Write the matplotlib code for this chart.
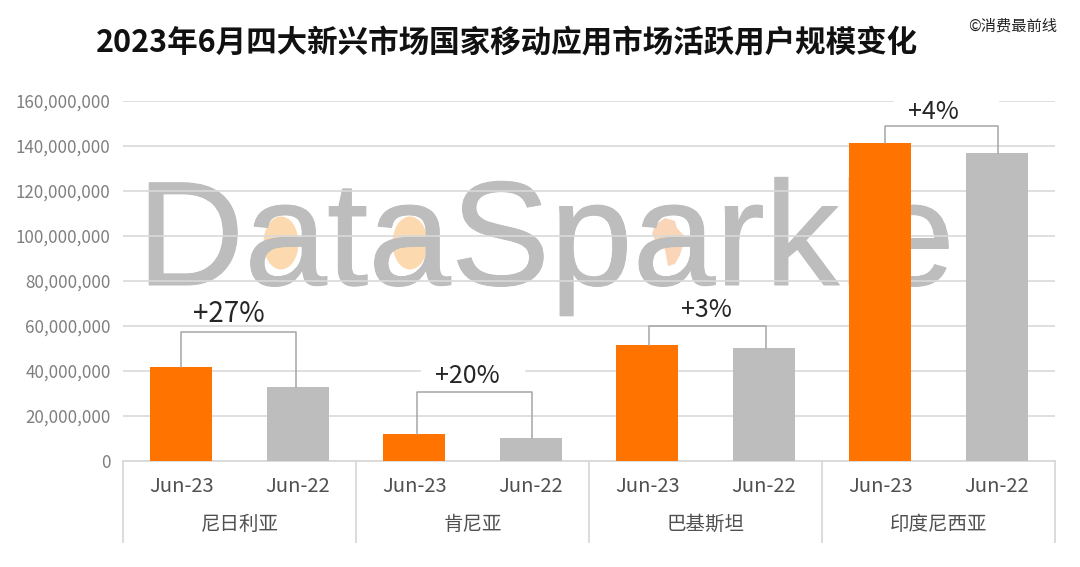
import numpy as np
import matplotlib.pyplot as plt
import matplotlib.patheffects as pe
from matplotlib.patches import Ellipse, Polygon

plt.rcParams['font.family'] = ['Noto Sans CJK SC', 'DejaVu Sans']

# Data
countries = ["尼日利亚", "肯尼亚", "巴基斯坦", "印度尼西亚"]
periods = ["Jun-23", "Jun-22"]
jun23 = [41500000, 12000000, 51500000, 141500000]
jun22 = [32500000, 10000000, 50000000, 137000000]
growth = ["+27%", "+20%", "+3%", "+4%"]
bracket_tops = [57000000, 30500000, 60000000, 149000000]
yticks = list(range(0, 160000001, 20000000))

ORANGE = "#ff7300"
GREY = "#bdbdbd"
LINE = "#d9d9d9"

fig = plt.figure(figsize=(10.8, 5.67), dpi=100)

# Watermark layer, in pixel coordinates, sits behind the chart
bg = fig.add_axes([0, 0, 1, 1], zorder=0)
bg.set_xlim(0, 1080)
bg.set_ylim(567, 0)
bg.axis("off")
bg.add_patch(Ellipse((281, 243), 35, 53, color="#fdd9b0", lw=0, zorder=1))
bg.add_patch(Ellipse((410, 243), 35, 53, color="#fdd9b0", lw=0, zorder=1))
africa = [(652, 234), (655, 225), (665, 218), (675, 221), (677, 228), (688, 240), (683, 245),
          (680, 255), (675, 264), (668, 266), (665, 250), (663, 243), (655, 240)]
bg.add_patch(Polygon(africa, closed=True, color="#fbd5b8", lw=0, zorder=1))
bg.text(137, 285, "DataSparkle", family="Liberation Sans", fontsize=107, color=GREY,
        ha="left", va="baseline", zorder=2,
        path_effects=[pe.withStroke(linewidth=0.7, foreground=GREY)])

# Main chart
ax = fig.add_axes([123 / 1080, 1 - 460.5 / 567, 932 / 1080, 359.5 / 567], zorder=1)
ax.patch.set_alpha(0)

x = np.arange(len(countries) * 2)
values = []
colors = []
for a, b in zip(jun23, jun22):
    values += [a, b]
    colors += [ORANGE, GREY]
ax.bar(x, values, width=0.53, color=colors, zorder=3)

ax.set_xlim(-0.5, 7.5)
ax.set_ylim(0, 160000000)
ax.set_yticks(yticks)
ax.set_yticklabels([f"{v:,}" for v in yticks], fontsize=12.2, color="#7f7f7f")
ax.set_xticks(x)
ax.set_xticklabels(periods * len(countries), fontsize=14.5, color="#505050")
ax.tick_params(axis="y", length=0, pad=9)
ax.tick_params(axis="x", length=0, pad=11)
ax.grid(axis="y", color=LINE, lw=1.2, zorder=1)
ax.set_axisbelow(True)
for name, spine in ax.spines.items():
    spine.set_visible(name == "bottom")
ax.spines["bottom"].set_color(LINE)
ax.spines["bottom"].set_linewidth(1.3)

# Two level category axis
trans = ax.get_xaxis_transform()
for sep in np.arange(-0.5, 8, 2):
    ax.plot([sep, sep], [0, -81.5 / 359.5], transform=trans, color=LINE, lw=1.3, clip_on=False)
for i, name in enumerate(countries):
    ax.text(i * 2 + 0.5, -63.5 / 359.5, name, transform=trans, ha="center", va="center",
            fontsize=14, color="#505050")

# Growth brackets
sizes = [20, 18, 18, 18]
label_dx = [0.41, 0.455, 0.506, 0.46]
label_dy = [1700000, 1500000, 1000000, 500000]
leg_dx_l = [0, 0.025, 0.015, 0.04]
leg_dx_r = [-0.015, 0.01, 0.02, 0.01]
for i in range(len(countries)):
    l, r = i * 2 + leg_dx_l[i], i * 2 + 1 + leg_dx_r[i]
    top = bracket_tops[i]
    ax.plot([l, l, r, r], [jun23[i], top, top, jun22[i]], color="#a6a6a6", lw=1.1, zorder=4)
    ax.text(i * 2 + label_dx[i], top + label_dy[i], growth[i], ha="center", va="bottom",
            fontsize=sizes[i], color="#262626", zorder=5)

# gaps the label boxes leave in the gridlines
ax.plot([6.13, 7.0], [160000000, 160000000], color="white", lw=2.5, zorder=2, clip_on=False)
ax.plot([2.07, 2.93], [40000000, 40000000], color="white", lw=2.5, zorder=2)

fig.text(507 / 1080, 1 - 43 / 567, "2023年6月四大新兴市场国家移动应用市场活跃用户规模变化",
         ha="center", va="center", fontsize=22, fontweight="bold", color="#111111")
fig.text(1057 / 1080, 1 - 26 / 567, "©消费最前线", ha="right", va="center", fontsize=11,
         color="#222222", zorder=5)

fig.savefig("out.png", dpi=100)
